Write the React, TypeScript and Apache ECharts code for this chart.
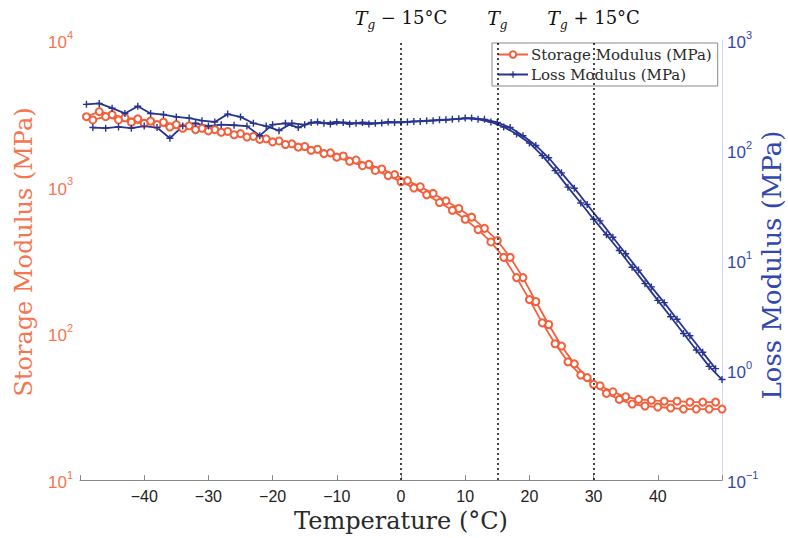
import React, { useEffect, useRef } from "react";
import * as echarts from "echarts";

// Temperatures (°C) of the two measurement runs
const tempA = [-49, -47, -45, -43, -41, -39, -37, -35, -33, -31, -29, -27, -25, -23, -21, -19, -17, -15, -13, -11, -9, -7, -5, -3, -1, 1, 3, 5, 7, 9, 11, 13, 15, 17, 19, 21, 23, 25, 27, 29, 31, 33, 35, 37, 39, 41, 43, 45, 47, 49];
const tempB = [-48, -46, -44, -42, -40, -38, -36, -34, -32, -30, -28, -26, -24, -22, -20, -18, -16, -14, -12, -10, -8, -6, -4, -2, 0, 2, 4, 6, 8, 10, 12, 14, 16, 18, 20, 22, 24, 26, 28, 30, 32, 34, 36, 38, 40, 42, 44, 46, 48, 50];

// Storage modulus (MPa)
const storageA = [3000, 3250, 3100, 2950, 2900, 2800, 2750, 2650, 2600, 2500, 2450, 2380, 2300, 2200, 2120, 2050, 1960, 1880, 1800, 1700, 1620, 1520, 1420, 1320, 1210, 1100, 1000, 900, 800, 710, 620, 520, 430, 330, 240, 165, 115, 82, 62, 50, 44, 40, 37, 35.5, 35, 34.5, 34.5, 34, 34, 34];
const storageB = [2850, 3000, 2850, 2750, 2700, 2650, 2550, 2500, 2450, 2400, 2350, 2260, 2180, 2100, 2020, 1940, 1860, 1770, 1680, 1590, 1490, 1390, 1290, 1190, 1080, 980, 880, 780, 690, 600, 510, 420, 330, 240, 170, 118, 85, 64, 52, 45, 39, 35.5, 33, 32, 31.5, 31, 30.5, 30.5, 30.5, 30.5];

// Loss modulus (MPa)
const lossA = [260, 265, 240, 215, 250, 215, 210, 200, 195, 185, 180, 212, 200, 175, 165, 150, 175, 170, 180, 172, 178, 175, 172, 176, 178, 180, 182, 185, 188, 192, 195, 190, 178, 160, 135, 110, 85, 62, 45, 32, 22.7, 16.1, 11.4, 8.1, 5.7, 4.1, 2.9, 2.05, 1.45, 1.03];
const lossB = [160, 158, 162, 158, 165, 160, 128, 165, 175, 165, 170, 168, 165, 135, 170, 175, 160, 178, 175, 180, 172, 178, 175, 180, 178, 182, 185, 188, 190, 195, 190, 180, 162, 140, 116, 89, 65, 46, 33, 23.5, 17, 12.2, 8.6, 6.1, 4.3, 3.05, 2.15, 1.52, 1.08, 0.82];

// Reference lines (°C) and their labels
const refLines = [0, 15, 30];
const refLabels = ["{t|T}{g|g}{n| − 15°C}", "{t|T}{g|g}", "{t|T}{g|g}{n| + 15°C}"];

const STORAGE = "Storage Modulus (MPa)";
const LOSS = "Loss Modulus (MPa)";

const ORANGE = "#f2603c";
const ORANGE_TXT = "#f47550";
const BLUE = "#27348f";
const BLUE_TXT = "#3347b0";
const SERIF = "'DejaVu Serif', 'Liberation Serif', serif";
const SANS = "'Liberation Sans', Arial, sans-serif";

const pow = (v: number) => {
  const e = Math.round(Math.log10(v));
  return `{b|10}{s|${e < 0 ? "−" + Math.abs(e) : e}}`;
};

const powRich = (color: string) => ({
  b: { fontSize: 17, color, fontFamily: SANS, lineHeight: 22, verticalAlign: "bottom" },
  s: { fontSize: 11, color, fontFamily: SANS, lineHeight: 12, verticalAlign: "top" },
});

export default function App() {
  const ref = useRef<HTMLDivElement>(null);
  useEffect(() => {
    if (!ref.current) return;
    const chart = echarts.init(ref.current, undefined, { renderer: "svg" });
    const pairs = (xs: number[], ys: number[]) => xs.map((x, i) => [x, ys[i]]);
    const storageStyle = {
      type: "line" as const,
      name: STORAGE,
      yAxisIndex: 0,
      symbol: "emptyCircle",
      symbolSize: 7,
      color: ORANGE,
      lineStyle: { width: 1.8, color: ORANGE },
      itemStyle: { color: ORANGE, borderWidth: 1.5 },
    };
    const lossStyle = {
      type: "line" as const,
      name: LOSS,
      yAxisIndex: 1,
      symbol: "path://M4,0H6V4H10V6H6V10H4V6H0V4H4Z",
      symbolSize: 7,
      color: BLUE,
      lineStyle: { width: 1.8, color: BLUE },
      itemStyle: { color: BLUE },
    };
    chart.setOption({
      animation: false,
      grid: { left: 80, right: 66, top: 40, bottom: 53 },
      legend: {
        data: [STORAGE, LOSS],
        orient: "vertical",
        left: 492,
        top: 43,
        itemWidth: 30,
        itemHeight: 8,
        itemGap: 5,
        padding: [4, 6, 4, 5],
        borderColor: "#8a8a8a",
        borderWidth: 1,
        backgroundColor: "#fff",
        textStyle: { fontFamily: SERIF, fontSize: 15, color: "#2a2a2a", padding: [0, 0, 0, -2] },
      },
      xAxis: {
        type: "value",
        min: -50,
        max: 50,
        interval: 10,
        name: "Temperature (°C)",
        nameLocation: "middle",
        nameGap: 38,
        nameTextStyle: { fontFamily: SERIF, fontSize: 24, color: "#2a2a2a", verticalAlign: "middle" },
        axisLine: { show: true, lineStyle: { color: "#888", width: 1 } },
        axisTick: { show: true, inside: true, length: 5, lineStyle: { color: "#888" } },
        splitLine: { show: false },
        axisLabel: {
          fontFamily: SANS,
          fontSize: 16,
          color: "#222",
          margin: 8,
          formatter: (v: number) => (Math.abs(v) === 50 ? "" : String(v).replace("-", "−")),
        },
      },
      yAxis: [
        {
          type: "log",
          logBase: 10,
          min: 10,
          max: 10000,
          position: "left",
          axisLine: { show: false },
          axisTick: { show: false },
          splitLine: { show: false },
          axisLabel: { margin: 7, formatter: pow, rich: powRich(ORANGE_TXT) },
        },
        {
          type: "log",
          logBase: 10,
          min: 0.1,
          max: 1000,
          position: "right",
          axisLine: { show: true, lineStyle: { color: "#c5cdea", type: "dotted", width: 1 } },
          axisTick: { show: false },
          splitLine: { show: false },
          axisLabel: { margin: 5, formatter: pow, rich: powRich(BLUE_TXT) },
        },
      ],
      graphic: [
        {
          type: "text",
          x: 24,
          y: 252,
          rotation: Math.PI / 2,
          style: {
            text: STORAGE,
            fill: ORANGE_TXT,
            font: `24px ${SERIF}`,
            textAlign: "center",
            textVerticalAlign: "middle",
          },
        },
        {
          type: "text",
          x: 772,
          y: 265,
          rotation: Math.PI / 2,
          style: {
            text: LOSS,
            fill: BLUE_TXT,
            font: `26px ${SERIF}`,
            textAlign: "center",
            textVerticalAlign: "middle",
          },
        },
      ],
      series: [
        {
          ...storageStyle,
          data: pairs(tempA, storageA),
          markLine: {
            silent: true,
            symbol: ["none", "none"],
            lineStyle: { color: "#1a1a1a", type: [2, 3], width: 1.6 },
            label: {
              show: true,
              position: "end",
              distance: 9,
              color: "#111",
              rich: {
                t: { fontFamily: SERIF, fontStyle: "italic", fontSize: 19, lineHeight: 23, verticalAlign: "top", color: "#111" },
                g: { fontFamily: SERIF, fontStyle: "italic", fontSize: 12, lineHeight: 13, verticalAlign: "bottom", color: "#111" },
                n: { fontFamily: SERIF, fontSize: 18, lineHeight: 23, verticalAlign: "top", color: "#111" },
              },
            },
            data: refLines.map((x, i) => ({ xAxis: x, label: { formatter: refLabels[i] } })),
          },
        },
        { ...storageStyle, data: pairs(tempB, storageB) },
        { ...lossStyle, data: pairs(tempA, lossA) },
        { ...lossStyle, data: pairs(tempB, lossB) },
      ],
    });
    return () => chart.dispose();
  }, []);
  return <div ref={ref} style={{ width: 788, height: 538, position: "absolute", left: 0, top: 0, background: "#fff" }} />;
}
